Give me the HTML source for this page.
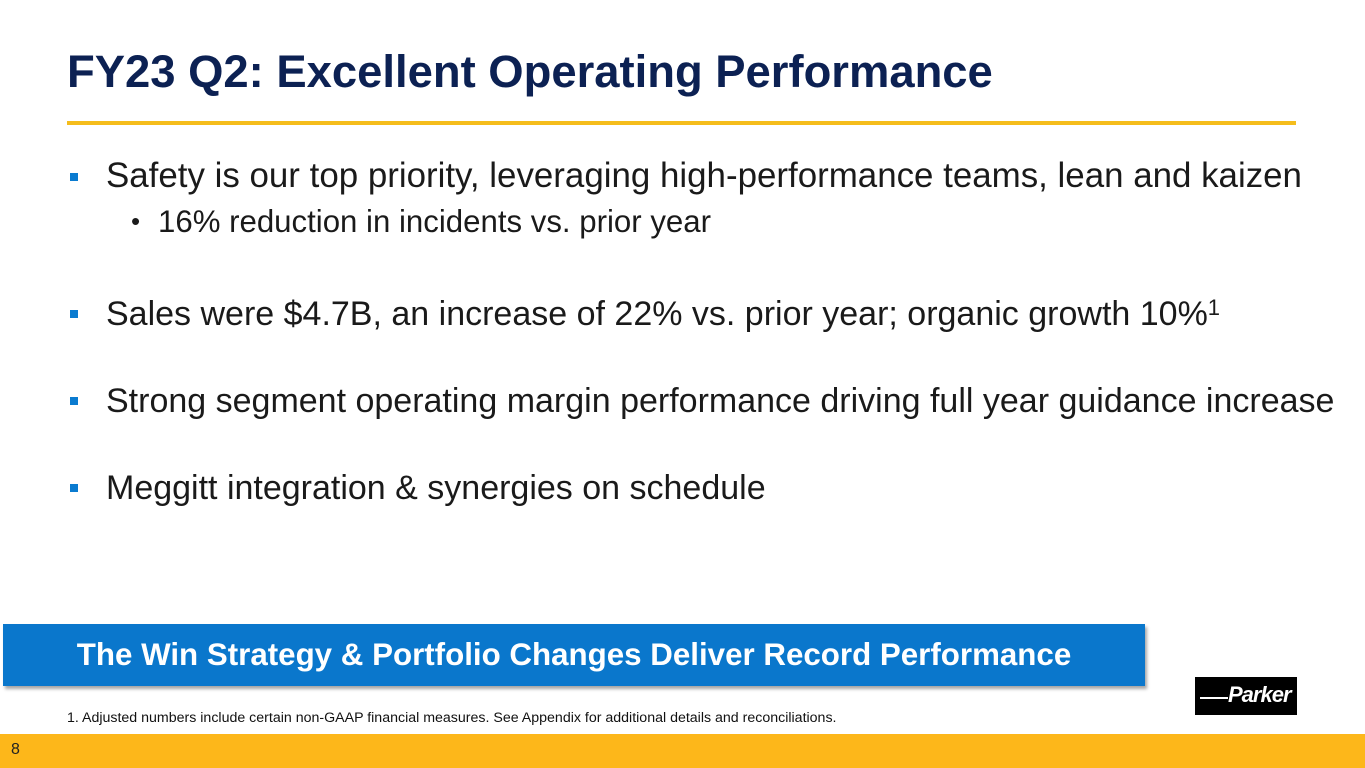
<!DOCTYPE html>
<html><head><style>
body{margin:0;width:1365px;height:768px;position:relative;overflow:hidden;background:#fff;font-family:"Liberation Sans",Arial,sans-serif}
.a{position:absolute;white-space:nowrap;line-height:1}
.t{left:67px;top:49px;font-size:45.4px;font-weight:bold;color:#0c2153}
.b{font-size:34px;color:#1a1a1a;left:106px}
.sq{position:absolute;left:70px;width:8px;height:8px;background:#0a7bd0}
.s{font-size:31.2px;color:#1a1a1a;left:158px}
</style></head><body>
<div class="a t">FY23 Q2: Excellent Operating Performance</div>
<div style="position:absolute;left:67px;top:121px;width:1229px;height:4px;background:#f5bd1c"></div>
<div class="sq" style="top:173px"></div><div class="a b" style="top:159px;font-size:34.9px">Safety is our top priority, leveraging high-performance teams, lean and kaizen</div>
<div class="a" style="left:131px;top:208px;font-size:26px;color:#1a1a1a">•</div><div class="a s" style="top:206px">16% reduction in incidents vs. prior year</div>
<div class="sq" style="top:310px"></div><div class="a b" style="top:297px">Sales were $4.7B, an increase of 22% vs. prior year; organic growth 10%<span style="font-size:22px;vertical-align:10px">1</span></div>
<div class="sq" style="top:397px"></div><div class="a b" style="top:384px">Strong segment operating margin performance driving full year guidance increase</div>
<div class="sq" style="top:484px"></div><div class="a b" style="top:471px">Meggitt integration &amp; synergies on schedule</div>
<div style="position:absolute;left:3px;top:624px;width:1142px;height:62px;background:#0a77cc;box-shadow:2px 3px 3px rgba(0,0,0,.35)"></div>
<div class="a" style="left:3px;width:1142px;text-align:center;top:639px;font-size:31.3px;font-weight:bold;color:#fff">The Win Strategy &amp; Portfolio Changes Deliver Record Performance</div>
<div class="a" style="left:67px;top:711px;font-size:14.2px;color:#111">1. Adjusted numbers include certain non-GAAP financial measures. See Appendix for additional details and reconciliations.</div>
<div style="position:absolute;left:1195px;top:677px;width:102px;height:38px;background:#000"></div>
<div style="position:absolute;left:1200px;top:697px;width:28px;height:2px;background:#fff"></div>
<div class="a" style="left:1228px;top:684px;font-size:22px;font-weight:bold;font-style:italic;color:#fff;letter-spacing:-1px">Parker</div>
<div style="position:absolute;left:0;top:734px;width:1365px;height:34px;background:#fdb71a"></div>
<div class="a" style="left:11px;top:742px;font-size:16px;color:#222">8</div>
</body></html>
